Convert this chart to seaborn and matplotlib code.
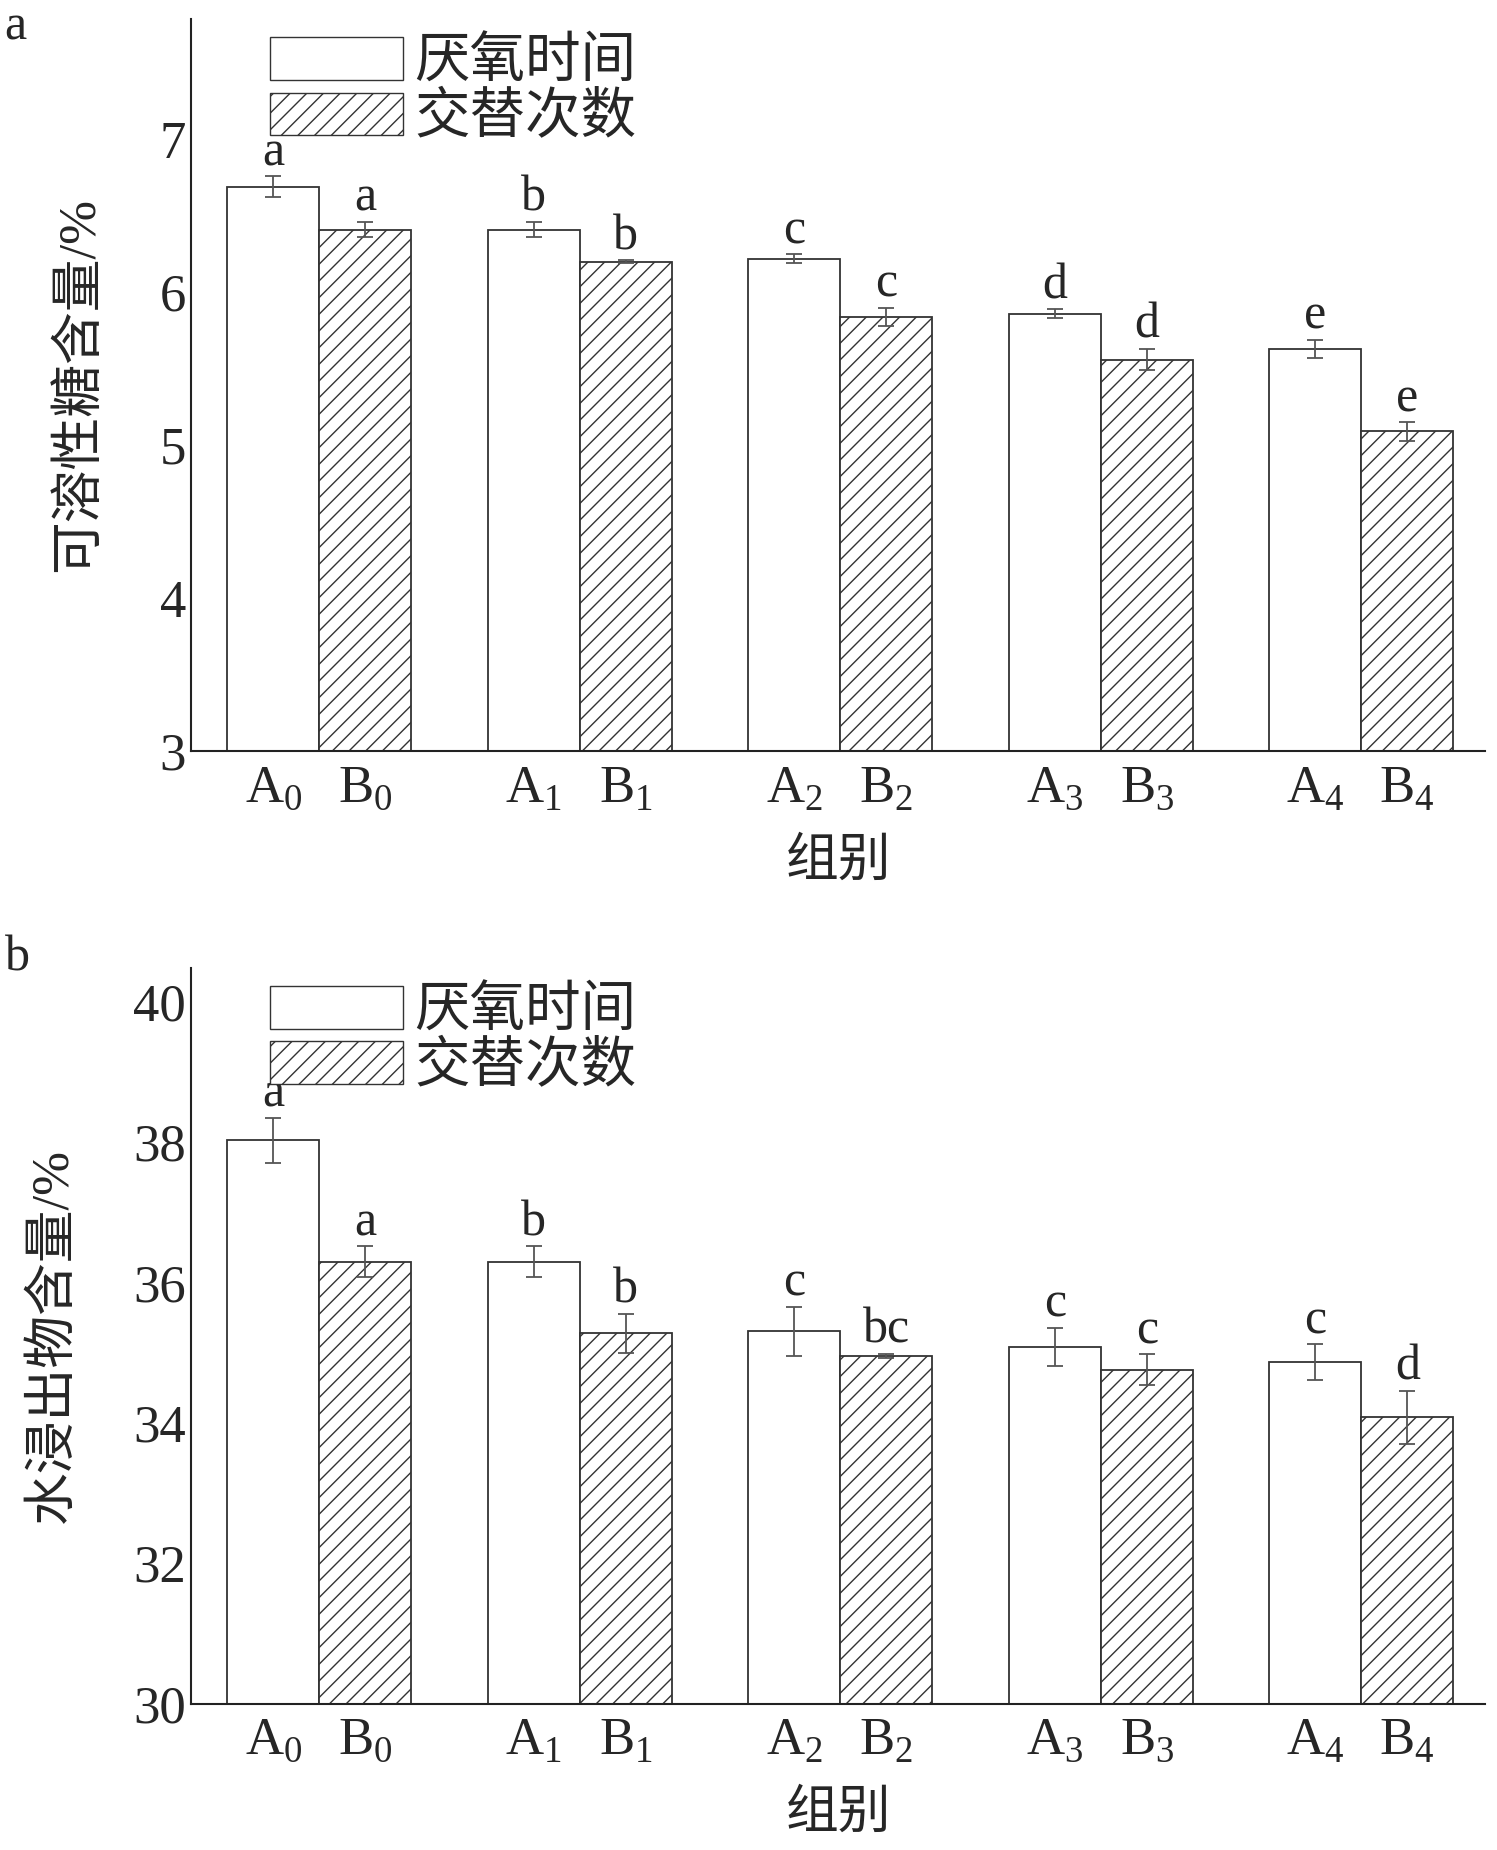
import matplotlib
matplotlib.use("Agg")
import matplotlib.pyplot as plt
import seaborn as sns
import pandas as pd
import numpy as np
from matplotlib.patches import Patch

sns.set_style("white")
plt.rcParams['font.family'] = ['Liberation Serif', 'Noto Sans CJK SC']
plt.rcParams['mathtext.fontset'] = 'custom'
plt.rcParams['mathtext.rm'] = 'Liberation Serif'
plt.rcParams['hatch.color'] = '#666666'
plt.rcParams['hatch.linewidth'] = 1.0

groups = ["0", "1", "2", "3", "4"]
series = ["厌氧时间", "交替次数"]
sugar_A = [6.69, 6.41, 6.22, 5.86, 5.63]
sugar_A_err = [0.07, 0.05, 0.03, 0.03, 0.06]
sugar_B = [6.41, 6.20, 5.84, 5.56, 5.09]
sugar_B_err = [0.05, 0.01, 0.06, 0.07, 0.06]
sugar_A_let = ["a", "b", "c", "d", "e"]
sugar_B_let = ["a", "b", "c", "d", "e"]
water_A = [38.03, 36.30, 35.31, 35.09, 34.87]
water_A_err = [0.32, 0.22, 0.35, 0.27, 0.25]
water_B = [36.30, 35.28, 34.96, 34.76, 34.08]
water_B_err = [0.22, 0.28, 0.03, 0.22, 0.38]
water_A_let = ["a", "b", "c", "c", "c"]
water_B_let = ["a", "b", "bc", "c", "d"]

fig = plt.figure(figsize=(14.97, 18.5), dpi=100)
ax1 = fig.add_axes([0.1276, 0.594, 0.8644, 0.396])
ax2 = fig.add_axes([0.1276, 0.079, 0.8644, 0.398])
W = 0.706
FS = 36

def panel(ax, A, Ae, B, Be, la, lb, ylim, yticks, ylabel, letoff):
    df = pd.DataFrame({"g": groups * 2, "s": [series[0]] * 5 + [series[1]] * 5,
                       "v": A + B})
    sns.barplot(data=df, x="g", y="v", hue="s", ax=ax, width=W, errorbar=None,
                palette=["white", "white"], edgecolor="#333333", linewidth=1.3,
                legend=False)
    for p in ax.patches[5:10]:
        p.set_hatch("//")
    bw = W / 2
    xs = np.arange(5)
    for off, vals, errs, lets in [(-bw / 2, A, Ae, la), (bw / 2, B, Be, lb)]:
        ax.errorbar(xs + off, vals, yerr=errs, fmt="none", ecolor="#555555",
                    elinewidth=1.3, capsize=6, capthick=1.3)
        for x, v, e, t in zip(xs + off, vals, errs, lets):
            ax.text(x, v + e + letoff, t, ha="center", va="bottom", fontsize=FS)
    ax.set_xlim(-0.493, 4.475)
    ax.set_ylim(*ylim)
    ax.set_yticks(yticks)
    ax.tick_params(axis="y", direction="in", length=8, labelsize=FS + 2, width=1.3)
    pos = []
    labs = []
    for i, g in enumerate(groups):
        pos += [i - bw / 2, i + bw / 2]
        labs += [f"A$_{g}$", f"B$_{g}$"]
    ax.set_xticks(pos)
    ax.set_xticklabels(labs, fontsize=FS + 2)
    ax.tick_params(axis="x", length=0, pad=10)
    ax.set_xlabel("组别", fontsize=FS + 2, labelpad=18)
    ax.set_ylabel(ylabel, fontsize=FS + 2, labelpad=40)
    for s in ["top", "right"]:
        ax.spines[s].set_visible(False)
    for s in ["left", "bottom"]:
        ax.spines[s].set_color("#222222")
        ax.spines[s].set_linewidth(1.5)
    handles = [Patch(facecolor="white", edgecolor="#333333", label=series[0]),
               Patch(facecolor="white", edgecolor="#333333", hatch="//", label=series[1])]
    ax.legend(handles=handles, loc="upper left", bbox_to_anchor=(0.035, 1.02),
              frameon=False, fontsize=FS + 4, handlelength=2.4, handleheight=0.8,
              handletextpad=0.2, labelspacing=0.05, borderpad=0.1)

panel(ax1, sugar_A, sugar_A_err, sugar_B, sugar_B_err, sugar_A_let, sugar_B_let,
      (3, 7.79), [3, 4, 5, 6, 7], "可溶性糖含量/%", 0.0)
panel(ax2, water_A, water_A_err, water_B, water_B_err, water_A_let, water_B_let,
      (30, 40.49), [30, 32, 34, 36, 38, 40], "水浸出物含量/%", 0.0)

fig.text(0.003, 0.985, "a", fontsize=FS, va="center")
fig.text(0.003, 0.482, "b", fontsize=FS, va="center")
fig.savefig("out.png", dpi=100, facecolor="white")
